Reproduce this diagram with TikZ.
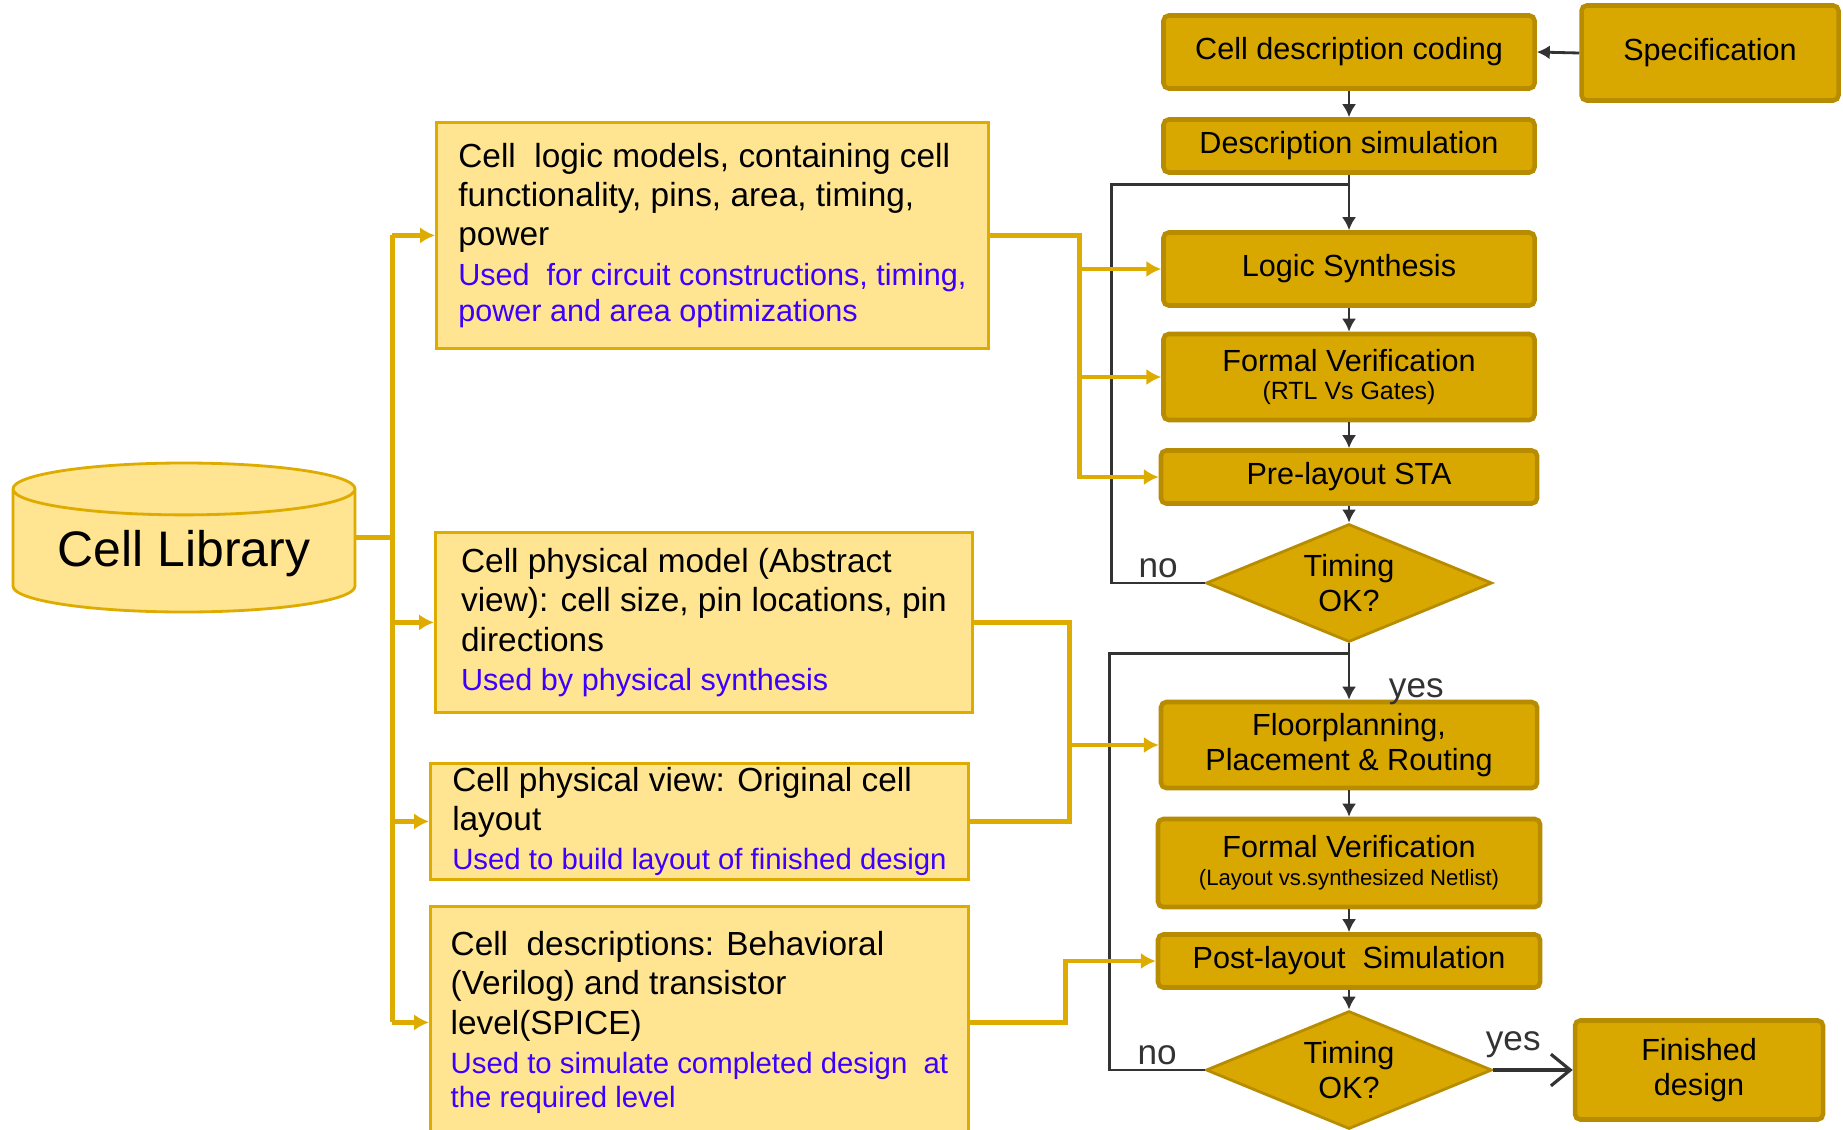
\documentclass[tikz,border=0pt]{standalone}
\usepackage{fontspec}
\setmainfont{Liberation Sans}
\usetikzlibrary{shapes.geometric,arrows.meta}
\definecolor{gold}{RGB}{217,168,0}
\definecolor{golddark}{RGB}{184,140,0}
\definecolor{paleyellow}{RGB}{255,228,145}
\definecolor{wire}{RGB}{222,172,0}
\definecolor{useblue}{RGB}{60,0,255}
\newcommand\usedtext{\color{useblue}\fontsize{8.7}{10.7}\selectfont}
\newcommand\usedsmall{\color{useblue}\fontsize{8.35}{9.8}\selectfont}
\begin{document}
\begin{tikzpicture}[auto,node distance=1cm,every node/.style={inner sep=1pt}]
\tikzstyle{flow}=[draw=golddark,fill=gold,line width=1.3pt,rounded corners=1.5pt,align=center,font=\fontsize{8.7}{10}\selectfont,minimum width=3.71cm]
\tikzstyle{test}=[diamond,draw=golddark,fill=gold,line width=0.8pt,aspect=2.4,inner sep=0pt,minimum width=2.86cm,minimum height=1.18cm,align=center,font=\fontsize{8.7}{10}\selectfont]
\tikzstyle{model}=[draw=wire,fill=paleyellow,line width=0.8pt,anchor=north west,align=left,font=\fontsize{9.5}{11.2}\selectfont]
\tikzstyle{arrow}=[draw,black!80,line width=0.8pt,-{Latex[length=3.7pt,width=4pt]}]
\tikzstyle{back}=[draw,black!80,line width=0.8pt]
\tikzstyle{feed}=[draw,wire,line width=1.4pt,-{Latex[length=4.2pt,width=4.6pt]}]
\tikzstyle{bus}=[draw,wire,line width=1.4pt]
\useasboundingbox (0,0) rectangle (18.43,-11.29);

\node[flow,minimum height=0.73cm](cdc) at (13.49,-0.52){Cell description coding};
\node[flow,below of=cdc,node distance=0.94cm,minimum height=0.53cm](dsim){Description simulation};
\node[flow,below of=dsim,node distance=1.23cm,minimum height=0.73cm](ls){Logic Synthesis};
\node[flow,below of=ls,node distance=1.08cm,minimum height=0.86cm](fv1){Formal Verification\\[-2pt]{\fontsize{7.1}{8}\selectfont(RTL Vs Gates)}};
\node[flow,below of=fv1,node distance=1.00cm,minimum height=0.53cm,minimum width=3.76cm](sta){Pre-layout STA};
\node[test,below of=sta,node distance=1.06cm](t1){Timing\\OK?};
\node[flow,below of=t1,node distance=1.62cm,minimum height=0.86cm,minimum width=3.76cm](fpr){Floorplanning,\\Placement \& Routing};
\node[flow,below of=fpr,node distance=1.18cm,minimum height=0.88cm,minimum width=3.82cm](fv2){Formal Verification\\[-2pt]{\fontsize{6.3}{7.5}\selectfont(Layout vs.synthesized Netlist)}};
\node[flow,below of=fv2,node distance=0.98cm,minimum height=0.53cm,minimum width=3.82cm](post){Post-layout~ Simulation};
\node[test,below of=post,node distance=1.09cm](t2){Timing\\OK?};
\node[flow,right of=t2,node distance=3.50cm,minimum width=2.48cm,minimum height=0.99cm](fin){Finished\\design};
\node[flow,right of=cdc,node distance=3.61cm,minimum width=2.57cm,minimum height=0.95cm,yshift=-0.01cm](spec){Specification};

\node[cylinder,shape border rotate=90,aspect=0.2,anchor=shape center,draw=wire,fill=paleyellow,line width=0.8pt,minimum width=3.42cm,minimum height=1.49cm,font=\fontsize{14.2}{16}\selectfont](lib) at (1.84,-5.375){Cell Library};

\node[model,minimum width=5.52cm,minimum height=2.26cm](m1) at (4.35,-1.21){Cell~ logic models, containing cell\\functionality, pins, area, timing,\\power\\\usedtext Used~ for circuit constructions, timing,\\[-0.8pt]\usedtext power and area optimizations};
\node[model,minimum width=5.37cm,minimum height=1.80cm](m2) at (4.34,-5.31){Cell physical model (Abstract\\view): cell size, pin locations, pin\\directions\\\usedtext Used by physical synthesis};
\node[model,minimum width=5.38cm,minimum height=1.16cm](m3) at (4.29,-7.62){Cell physical view: Original cell\\layout\\\usedsmall Used to build layout of finished design};
\node[model,minimum width=5.38cm,minimum height=2.32cm](m4) at (4.29,-9.05){Cell~ descriptions: Behavioral\\(Verilog) and transistor\\level(SPICE)\\\usedsmall Used to simulate completed design~ at\\[-1.5pt]\usedsmall the required level};

\coordinate (j1) at ([yshift=-0.1cm]dsim.south);
\coordinate (j2) at ([yshift=-0.1cm]t1.south);

\path[arrow](spec.west)--(cdc.east);
\path[arrow](cdc.south)--(dsim.north);
\path[arrow](dsim.south)--(ls.north);
\path[arrow](ls.south)--(fv1.north);
\path[arrow](fv1.south)--(sta.north);
\path[arrow](sta.south)--(t1.north);
\path[arrow](t1.south)--node[pos=0.85,right=0.35cm]{yes}(fpr.north);
\path[arrow](fpr.south)--(fv2.north);
\path[arrow](fv2.south)--(post.north);
\path[arrow](post.south)--(t2.north);
\path[back](t1.west)--node[above]{no}++(-0.93,0)|-(j1);
\path[back](t2.west)--node[above]{no}++(-0.95,0)|-(j2);
\path[draw,black!80,line width=0.9pt,-{Straight Barb[length=5.5pt,width=9pt]}](t2.east)--node[pos=0.25,above=2pt]{yes}(fin.west);

\path[bus](lib.shape center -| lib.east)--++(0.36,0)coordinate(hub);
\path[bus](hub |- m1.west)--(hub |- m4.west);
\foreach \m in {m1,m2,m3,m4}
  \path[feed](hub |- \m.west)--(\m.west);

\path[feed](m1.east)--++(0.90,0)|-(sta.west);
\path[feed]([xshift=0.90cm]m1.east |- ls.west)--(ls.west);
\path[feed]([xshift=0.90cm]m1.east |- fv1.west)--(fv1.west);
\path[bus](m2.east)--++(0.96,0)|-(m3.east);
\path[feed]([xshift=0.96cm]m2.east |- fpr.west)--(fpr.west);
\path[feed](m4.east)--++(0.96,0)|-(post.west);
\end{tikzpicture}
\end{document}
